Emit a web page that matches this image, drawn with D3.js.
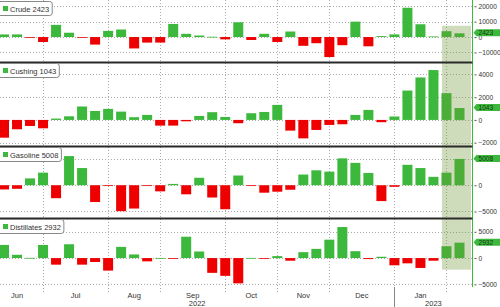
<!DOCTYPE html>
<html><head><meta charset="utf-8">
<script src="https://cdn.jsdelivr.net/npm/d3@7"></script>
<style>html,body{margin:0;padding:0;background:#fff;overflow:hidden}svg{display:block;font-family:"Liberation Sans",Arial,sans-serif}</style>
</head><body><svg id="c" width="500" height="307"></svg>
<script>
const weeks = ["2022-06-10","2022-06-17","2022-06-24","2022-07-01","2022-07-08","2022-07-15","2022-07-22","2022-07-29",
"2022-08-05","2022-08-12","2022-08-19","2022-08-26","2022-09-02","2022-09-09","2022-09-16","2022-09-23","2022-09-30",
"2022-10-07","2022-10-14","2022-10-21","2022-10-28","2022-11-04","2022-11-11","2022-11-18","2022-11-25",
"2022-12-02","2022-12-09","2022-12-16","2022-12-23","2022-12-30","2023-01-06","2023-01-13","2023-01-20","2023-01-27",
"2023-02-03","2023-02-10"];
const crude = [1700,1700,-500,-3200,7900,2800,-500,-4900,4000,4900,-7400,-3600,-3600,8500,2100,1000,200,-1500,9600,-1900,
 2100,-3200,3600,-5700,-4000,-13000,-5300,10000,-6000,600,1700,19000,8300,400,3800,2423];
const cushing = [-1560,-820,-530,-735,120,320,1180,790,970,730,240,440,-500,-500,-120,350,680,260,-290,590,
 700,1320,-940,-1620,-880,-440,-380,440,880,-200,300,2580,3730,4380,2350,1043];
const gasoline = [-800,-680,1300,2400,-2470,5550,3270,-3200,-100,-4940,-4440,-80,-1170,250,-1730,1420,-2340,-4570,1850,-150,
 -1420,-1230,-860,2040,2840,2590,5120,4260,2340,-3020,-300,3890,3270,1600,2400,5008];
const distillates = [2500,625,50,2500,-1250,2630,-1250,-750,-2380,2130,690,-625,30,-30,4060,1250,-2810,-3380,-4810,30,
 -30,375,-500,1125,1750,3500,5900,1310,-190,250,-1375,-1000,-1875,-500,2250,2932];
const seriesNames = ["Crude","Cushing","Gasoline","Distillates"];
const crudeTicks = [-10000,0,10000,20000];
const cushingTicks = [-2000,0,2000,4000];
const gasolineTicks = [-5000,0,5000];
const distillatesTicks = [-5000,0,5000];
const monthNames = ["Jan","Feb","Mar","Apr","May","Jun","Jul","Aug","Sep","Oct","Nov","Dec"];

const panels = [
  {name:"Crude", data:crude, ticks:crudeTicks, dom:[-16200,23400], top:1, bot:62},
  {name:"Cushing", data:cushing, ticks:cushingTicks, dom:[-2290,5000], top:63, bot:146},
  {name:"Gasoline", data:gasoline, ticks:gasolineTicks, dom:[-6240,7280], top:147, bot:218},
  {name:"Distillates", data:distillates, ticks:distillatesTicks, dom:[-5500,7430], top:219, bot:287}
];

const svg = d3.select("#c");
const W = 472.5;
const GREEN = "#3cb93c", RED = "#ee0000";
const x = d3.scaleLinear().domain([-0.5, 36]).range([-2.5, W]);
const parse = d3.timeParse("%Y-%m-%d");
const dates = weeks.map(parse);

const bounds = [];
dates.forEach((d,i)=>{ if(i>0 && d.getMonth()!==dates[i-1].getMonth()) bounds.push({i, m:d.getMonth(), y:d.getFullYear()}); });
svg.append("g").selectAll("line").data(bounds).join("line")
  .attr("x1",d=>Math.round(x(d.i))+0.5).attr("x2",d=>Math.round(x(d.i))+0.5)
  .attr("y1",0).attr("y2",292)
  .attr("stroke","#aaa").attr("stroke-width",1).attr("stroke-dasharray","1,2");

panels.forEach(p=>{
  const y = d3.scaleLinear().domain(p.dom).range([p.bot, p.top]);
  p.y = y;
  const g = svg.append("g");
  g.selectAll("line.grid").data(p.ticks).join("line")
    .attr("x1",0).attr("x2",W).attr("y1",d=>Math.round(y(d))+0.5).attr("y2",d=>Math.round(y(d))+0.5)
    .attr("stroke","#aaa").attr("stroke-dasharray","1,2");
  g.selectAll("rect.bar").data(p.data).join("rect")
    .attr("x",(d,i)=>x(i)-5).attr("width",10)
    .attr("y",d=>y(Math.max(0,d)))
    .attr("height",d=>Math.max(0.8, Math.abs(y(d)-y(0))))
    .attr("fill",d=>d>=0?GREEN:RED);
  const ax = d3.axisRight(y).tickValues(p.ticks).tickSize(2).tickPadding(2).tickFormat(d3.format("d"));
  const ag = g.append("g").attr("transform",`translate(${W+2},0)`).call(ax);
  ag.select(".domain").remove();
  ag.selectAll("text").attr("font-size",6.6).attr("fill","#333").attr("font-family","Liberation Sans, Arial, sans-serif");
  ag.selectAll("line").attr("stroke","#555");
});

svg.append("rect").attr("x",x(33.5)+2).attr("width",x(35.5)-x(33.5)+3)
  .attr("y",panels[0].y(7300)).attr("height",panels[3].y(-2200)-panels[0].y(7300))
  .attr("fill","rgb(110,150,50)").attr("fill-opacity",0.33);

svg.append("line").attr("x1",W).attr("x2",W).attr("y1",0).attr("y2",287).attr("stroke",GREEN).attr("stroke-width",1);

panels.forEach(p=>{
  if(p.name!=="Distillates") svg.append("line").attr("x1",0).attr("x2",W).attr("y1",p.bot+0.5).attr("y2",p.bot+0.5)
    .attr("stroke","#2a2a2a").attr("stroke-width",2);
  const last = p.data[p.data.length-1];
  const ty = p.y(last) - 0.5;
  svg.append("path").attr("d",`M${W+1},${ty} L${W+4},${ty-3.5} L500,${ty-3.5} L500,${ty+3.5} L${W+4},${ty+3.5} Z`).attr("fill",GREEN);
  svg.append("text").attr("x",W+6).attr("y",ty+2.4).attr("font-size",6.6).attr("fill","#143214").text(last);
  const lg = svg.append("g").attr("transform",`translate(0,${p.top})`);
  const box = lg.append("rect").attr("x",-3).attr("y",0.5).attr("height",14).attr("rx",2.5)
    .attr("fill","#fff").attr("stroke","#888");
  lg.append("rect").attr("x",3).attr("y",5).attr("width",5).attr("height",5).attr("fill",GREEN);
  const t = lg.append("text").attr("x",10).attr("y",10.5).attr("font-size",7.5).attr("fill","#333").text(p.name+"  "+last);
  box.attr("width", 10 + t.node().getComputedTextLength() + 6);
});

const mlabels = [{i:-1,m:5}].concat(bounds.map(b=>({i:b.i,m:b.m})));
svg.append("g").selectAll("text").data(mlabels.slice(0,-1)).join("text")
  .attr("x",(d,k)=>(x(d.i)+x(mlabels[k+1].i))/2).attr("y",298).attr("text-anchor","middle")
  .attr("font-size",7.5).attr("fill","#333").text(d=>monthNames[d.m]);
const yb = bounds.find(b=>b.m===0);
svg.append("line").attr("x1",Math.round(x(yb.i))+0.5).attr("x2",Math.round(x(yb.i))+0.5).attr("y1",287).attr("y2",307).attr("stroke","#888");
const years = [{label:"2022", a:0, b:x(yb.i)},{label:"2023", a:x(yb.i), b:W}];
svg.append("g").selectAll("text").data(years).join("text")
  .attr("x",d=>(d.a+d.b)/2).attr("y",306).attr("text-anchor","middle").attr("font-size",7.5).attr("fill","#333").text(d=>d.label);
</script></body></html>
